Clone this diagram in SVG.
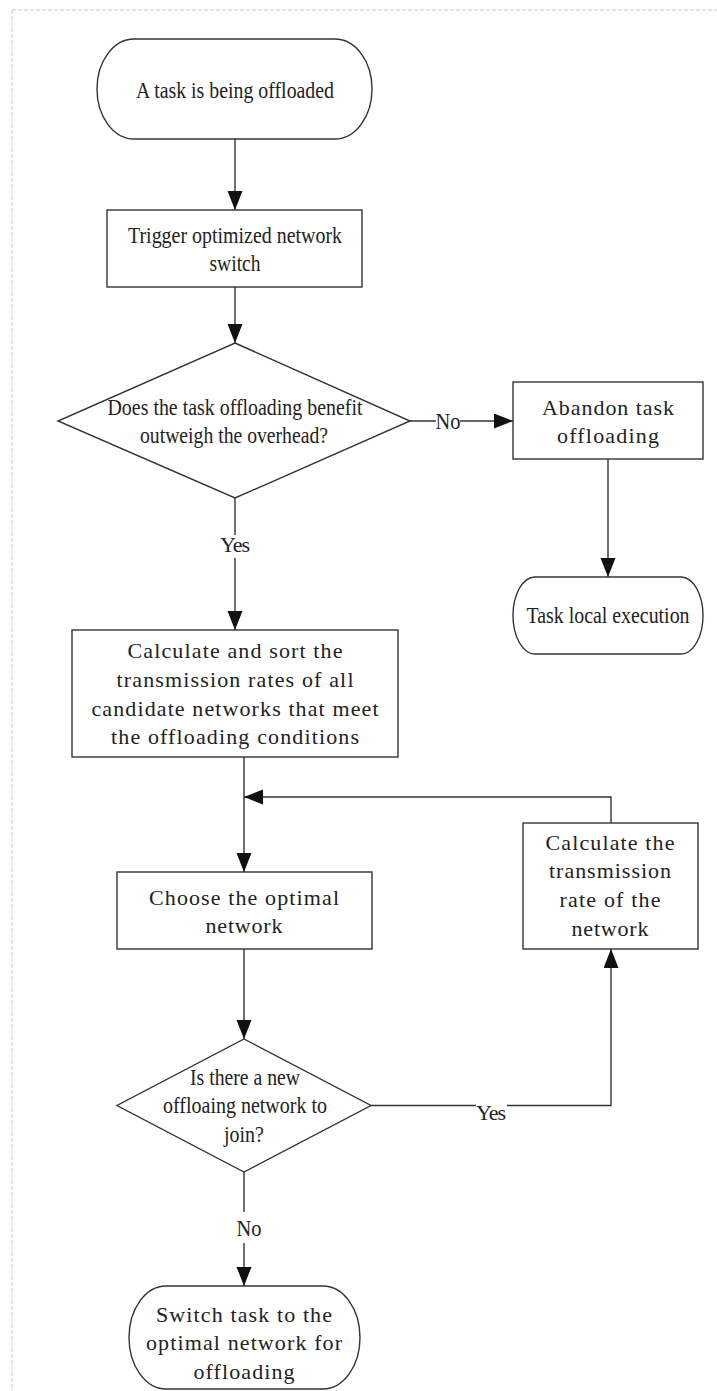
<svg xmlns="http://www.w3.org/2000/svg" width="717" height="1391" viewBox="0 0 717 1391" font-family="'Liberation Serif', 'DejaVu Serif', serif">
<style>
.shape{fill:#fff;stroke:#333;stroke-width:1.4}
.conn{fill:none;stroke:#333;stroke-width:1.4}
text{font-family:'Liberation Serif','DejaVu Serif',serif;font-size:22px;fill:#222;text-anchor:middle}
text.n{font-size:23.5px}
.bg{fill:#fff;stroke:none}
</style>
<defs>
<marker id="arr" markerUnits="userSpaceOnUse" markerWidth="21" markerHeight="16" refX="19" refY="7.5" orient="auto">
<path d="M0,0 L19,7.5 L0,15 z" fill="#111"/>
</marker>
</defs>
<rect width="717" height="1391" fill="#fff"/>
<path d="M12,10 H717 M12,10 V1391" fill="none" stroke="#c8c8c8" stroke-width="1" stroke-dasharray="4 2"/>

<g id="connectors">
<path class="conn" d="M235,139 V210" marker-end="url(#arr)"/>
<path class="conn" d="M235,287 V343" marker-end="url(#arr)"/>
<path class="conn" d="M410,421 H513" marker-end="url(#arr)"/>
<path class="conn" d="M608,459 V577" marker-end="url(#arr)"/>
<path class="conn" d="M235,498 V630" marker-end="url(#arr)"/>
<path class="conn" d="M244,757 V872" marker-end="url(#arr)"/>
<path class="conn" d="M611,823 V797 H244" marker-end="url(#arr)"/>
<path class="conn" d="M244,949 V1039" marker-end="url(#arr)"/>
<path class="conn" d="M371,1105.5 H611 V949" marker-end="url(#arr)"/>
<path class="conn" d="M244,1172 V1286" marker-end="url(#arr)"/>
<rect class="bg" x="436" y="412" width="24" height="18"/>
<text class="n" x="448" y="429" textLength="25" lengthAdjust="spacingAndGlyphs">No</text>
<rect class="bg" x="222" y="535" width="26" height="23"/>
<text x="235" y="552" textLength="30">Yes</text>
<rect class="bg" x="476" y="1103" width="31" height="20"/>
<text x="491" y="1120" textLength="30">Yes</text>
<rect class="bg" x="234" y="1212" width="28" height="31"/>
<text class="n" x="249" y="1236" textLength="25" lengthAdjust="spacingAndGlyphs">No</text>
</g>

<g id="start">
<rect class="shape" x="97" y="39" width="275" height="100" rx="37" ry="50"/>
<text class="n" x="235" y="98" textLength="198" lengthAdjust="spacingAndGlyphs">A task is being offloaded</text>
</g>

<g id="trigger">
<rect class="shape" x="107" y="210" width="255" height="77"/>
<text class="n" x="235" y="243" textLength="214" lengthAdjust="spacingAndGlyphs">Trigger optimized network</text>
<text class="n" x="235" y="271" textLength="51" lengthAdjust="spacingAndGlyphs">switch</text>
</g>

<g id="decision1">
<polygon class="shape" points="235,343 410,421 235,498 58,421"/>
<text class="n" x="235" y="415" textLength="255" lengthAdjust="spacingAndGlyphs">Does the task offloading benefit</text>
<text class="n" x="234" y="443" textLength="188" lengthAdjust="spacingAndGlyphs">outweigh the overhead?</text>
</g>

<g id="abandon">
<rect class="shape" x="513" y="382" width="190" height="77"/>
<text x="608" y="415" textLength="132">Abandon task</text>
<text x="608" y="443" textLength="102">offloading</text>
</g>

<g id="local">
<rect class="shape" x="513" y="577" width="190" height="77" rx="22" ry="38.5"/>
<text class="n" x="608" y="623" textLength="163" lengthAdjust="spacingAndGlyphs">Task local execution</text>
</g>

<g id="calcsort">
<rect class="shape" x="72" y="630" width="326" height="127"/>
<text x="235" y="658" textLength="215">Calculate and sort the</text>
<text x="235" y="687" textLength="237">transmission rates of all</text>
<text x="235" y="716" textLength="287">candidate networks that meet</text>
<text x="235" y="744" textLength="248">the offloading conditions</text>
</g>

<g id="choose">
<rect class="shape" x="117" y="872" width="255" height="77"/>
<text x="244" y="905" textLength="190">Choose the optimal</text>
<text x="244" y="933" textLength="77">network</text>
</g>

<g id="calcrate">
<rect class="shape" x="523" y="823" width="175" height="126"/>
<text x="610" y="850" textLength="129">Calculate the</text>
<text x="610" y="878" textLength="122">transmission</text>
<text x="610" y="907" textLength="101">rate of the</text>
<text x="610" y="936" textLength="77">network</text>
</g>

<g id="decision2">
<polygon class="shape" points="244,1039 371,1105.5 244,1172 117,1105.5"/>
<text class="n" x="245" y="1085" textLength="110" lengthAdjust="spacingAndGlyphs">Is there a new</text>
<text class="n" x="245" y="1113" textLength="164" lengthAdjust="spacingAndGlyphs">offloaing network to</text>
<text class="n" x="244" y="1142" textLength="40" lengthAdjust="spacingAndGlyphs">join?</text>
</g>

<g id="switch">
<rect class="shape" x="129" y="1286" width="231" height="103" rx="37" ry="51.5"/>
<text x="244" y="1322" textLength="176">Switch task to the</text>
<text x="244" y="1350" textLength="196">optimal network for</text>
<text x="244" y="1379" textLength="101">offloading</text>
</g>
</svg>
